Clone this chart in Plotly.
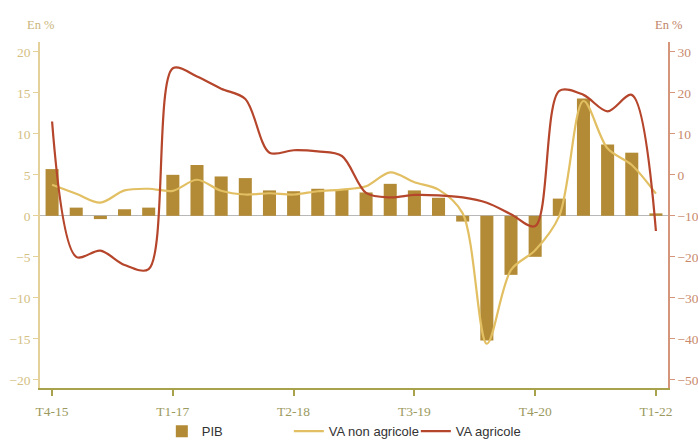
import plotly.graph_objects as go

quarters = ["T4-15",
            "T1-16", "T2-16", "T3-16", "T4-16",
            "T1-17", "T2-17", "T3-17", "T4-17",
            "T1-18", "T2-18", "T3-18", "T4-18",
            "T1-19", "T2-19", "T3-19", "T4-19",
            "T1-20", "T2-20", "T3-20", "T4-20",
            "T1-21", "T2-21", "T3-21", "T4-21",
            "T1-22"]
tick_labels = ["T4-15", "T1-17", "T2-18", "T3-19", "T4-20", "T1-22"]

pib = [5.7, 1.0, -0.4, 0.8, 1.0, 5.0, 6.2, 4.8, 4.6, 3.1, 3.0, 3.3, 3.2,
       2.85, 3.9, 3.1, 2.2, -0.7, -15.2, -7.2, -5.0, 2.1, 14.3, 8.7, 7.7, 0.3]
va_non_agricole = [3.8, 2.7, 1.6, 3.1, 3.3, 3.05, 4.4, 3.05, 2.6, 2.75, 2.6, 3.0, 3.2,
                   3.6, 5.3, 4.1, 3.2, 0.3, -15.6, -6.6, -4.2, 0.0, 14.0, 8.2, 6.2, 2.7]
va_agricole = [13.0, -20.0, -18.5, -22.0, -23.0, 26.0, 24.0, 21.0, 18.5, 5.4, 6.0, 5.7, 4.6,
               -4.4, -5.5, -4.9, -5.0, -5.5, -6.8, -9.6, -12.5, 20.5, 19.5, 15.5, 19.5, -13.7]

BAR = "#b38b36"
TAN = "#e2bf62"
RED = "#b5452b"
LEFT_AX = "#e3d199"
RIGHT_AX = "#d4957a"
X_AX = "#a9a24c"
SERIF = "Liberation Serif"

fig = go.Figure()
fig.add_trace(go.Bar(x=quarters, y=pib, name="PIB", marker_color=BAR,
                     marker_line_width=0, yaxis="y"))
fig.add_trace(go.Scatter(x=quarters, y=va_non_agricole, name="VA non agricole",
                         mode="lines", line=dict(color=TAN, width=2.2, shape="spline", smoothing=0.9),
                         yaxis="y"))
fig.add_trace(go.Scatter(x=quarters, y=va_agricole, name="VA agricole",
                         mode="lines", line=dict(color=RED, width=2.2, shape="spline", smoothing=0.9),
                         yaxis="y2"))

fig.update_layout(
    width=698, height=440,
    margin=dict(l=40, r=30, t=42, b=52, autoexpand=False),
    paper_bgcolor="white", plot_bgcolor="white",
    bargap=0.46,
    showlegend=True,
    legend=dict(orientation="h", x=0.194, xanchor="left", y=-0.125, yanchor="middle",
                font=dict(family="Liberation Sans", size=13, color="#333333"),
                entrywidth=82, entrywidthmode="pixels", itemwidth=30),
    xaxis=dict(type="category", range=[-0.5, 25.5], automargin=False,
               tickmode="array", tickvals=tick_labels, ticktext=tick_labels,
               showline=True, linecolor=X_AX, linewidth=1.5,
               ticks="outside", ticklen=6, tickcolor=X_AX, tickwidth=1.5,
               showgrid=False, zeroline=False, ticklabelstandoff=4,
               tickfont=dict(family=SERIF, size=13.5, color="#9c9a60")),
    yaxis=dict(range=[-21.0, 21.2], tickmode="array", automargin=False,
               tickvals=[20, 15, 10, 5, 0, -5, -10, -15, -20],
               showline=True, linecolor=LEFT_AX, linewidth=1.5,
               ticks="outside", ticklen=5, tickcolor=LEFT_AX,
               showgrid=False, zeroline=True, zerolinecolor="#b8b8b8", zerolinewidth=1.2,
               tickfont=dict(family=SERIF, size=13.5, color="#d4c083")),
    yaxis2=dict(range=[-52.0, 32.4], overlaying="y", side="right", tickmode="array",
                automargin=False,
                tickvals=[30, 20, 10, 0, -10, -20, -30, -40, -50],
                showline=True, linecolor=RIGHT_AX, linewidth=1.5,
                ticks="outside", ticklen=5, tickcolor=RIGHT_AX,
                showgrid=False, zeroline=False,
                tickfont=dict(family=SERIF, size=13.5, color="#c98a6c")),
    annotations=[
        dict(text="En %", xref="paper", yref="paper", x=0.0, y=1.0, yshift=17,
             xanchor="center", yanchor="middle", showarrow=False,
             font=dict(family=SERIF, size=12.5, color="#c9b57c")),
        dict(text="En %", xref="paper", yref="paper", x=1.0, y=1.0, yshift=17,
             xanchor="center", yanchor="middle", showarrow=False,
             font=dict(family=SERIF, size=12.5, color="#c08468")),
    ],
)

fig.write_html("out.html", config={"displayModeBar": False},
               post_script="document.body.style.margin='0';document.body.style.overflow='hidden';")
